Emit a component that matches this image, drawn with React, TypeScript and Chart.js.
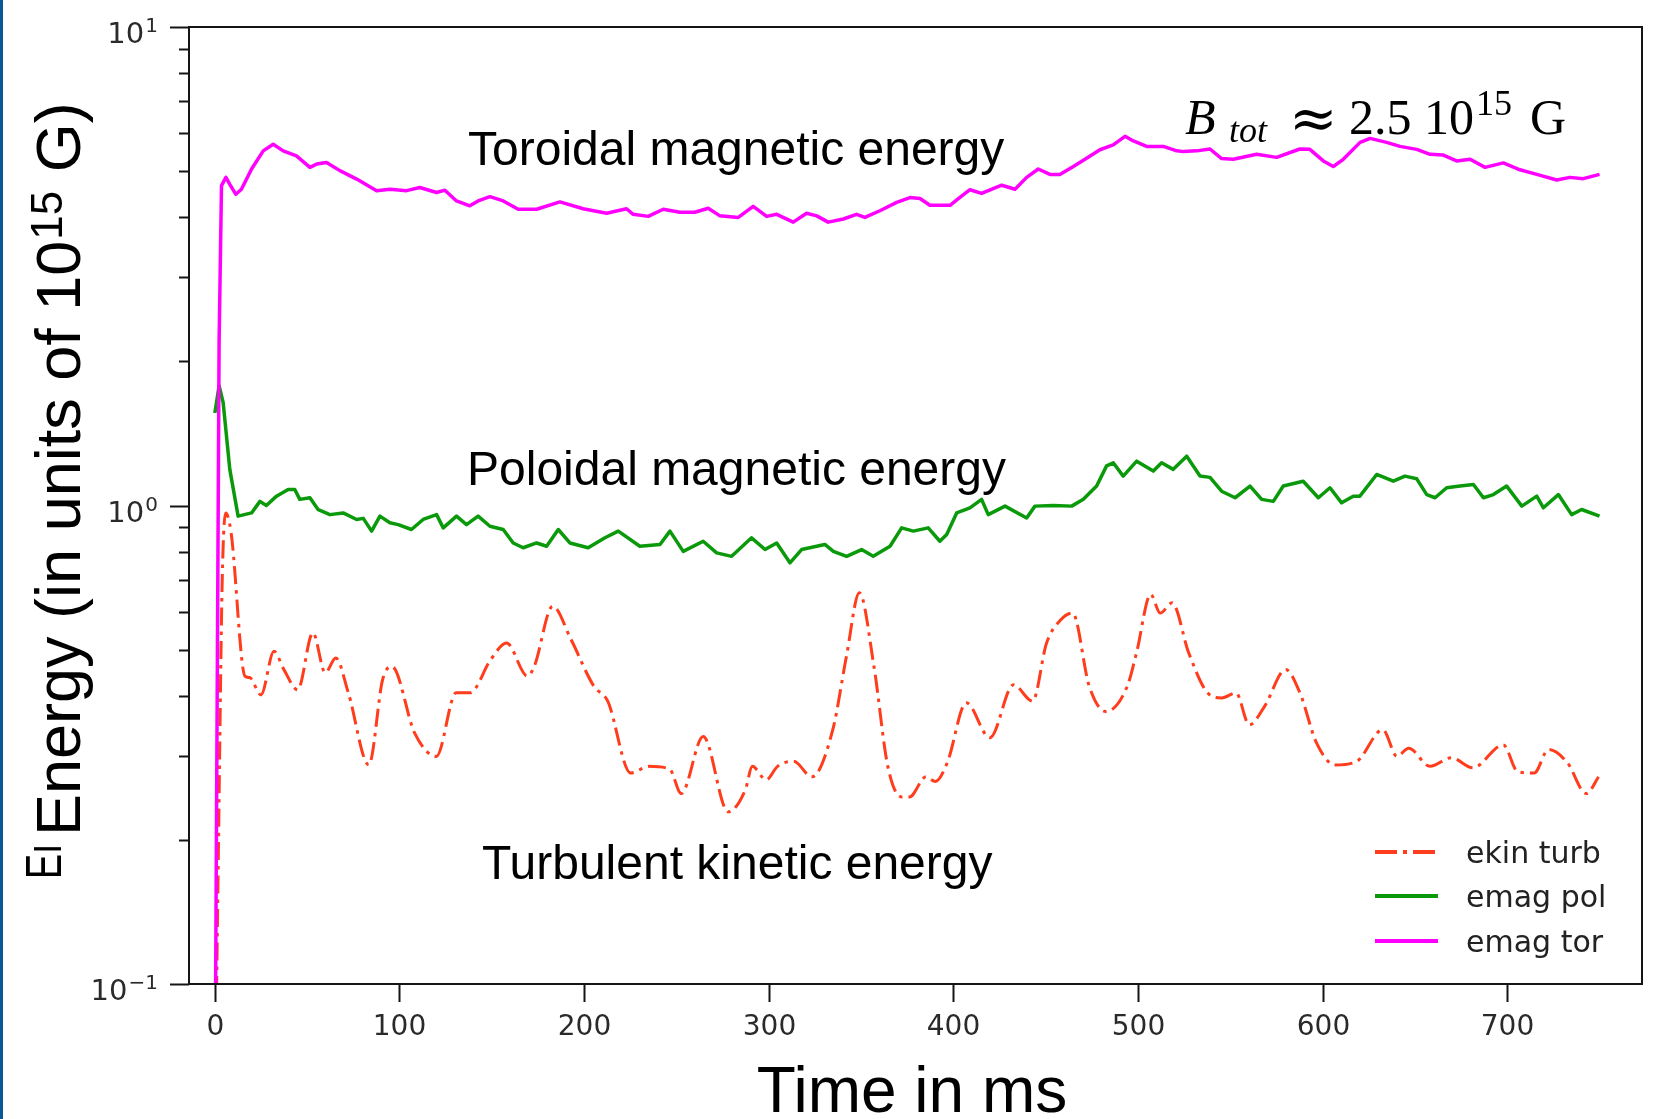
import React, { useEffect, useRef } from "react";
import { Chart, registerables } from "chart.js";

Chart.register(...registerables);

// ---- data (time in ms, energy in units of 10^15 G) ----
const tTor = [0, 2.3, 3.6, 6, 8.1, 11.4, 14.4, 19.9, 26.2, 31.6, 37, 44.2, 51.5, 55.1, 60.5, 67.7, 76.8, 87.6, 94.8, 103.8, 111, 120.1, 124.6, 130.9, 138.1, 142.6, 149, 156.2, 164.3, 174.3, 186.9, 199.5, 212.2, 223, 226.6, 234.7, 242.9, 251.9, 260, 267.2, 273.6, 283.5, 291.6, 298.9, 304.3, 313.3, 320.5, 326, 332.2, 340.4, 347.6, 352.1, 360.2, 369.3, 376.5, 381.9, 387.3, 398.2, 402.7, 409, 415.3, 426.2, 433.4, 439.7, 446, 452.3, 457.7, 465, 471.3, 479.4, 486.6, 493, 497.5, 504.7, 513.7, 521, 524.5, 531.8, 539, 545.3, 551.6, 564.3, 575.1, 587.7, 593.1, 600.4, 605.8, 611.2, 620.3, 625.7, 634.7, 641.9, 651, 658.2, 665.4, 672.6, 679.9, 688, 697.9, 706.9, 716, 726.8, 734, 741.2, 750];
const eTor = [0.05, 2.19, 4.66, 4.85, 4.69, 4.47, 4.58, 5.05, 5.51, 5.69, 5.51, 5.38, 5.09, 5.17, 5.21, 5.01, 4.81, 4.55, 4.58, 4.55, 4.62, 4.51, 4.56, 4.33, 4.23, 4.33, 4.42, 4.33, 4.16, 4.16, 4.31, 4.17, 4.08, 4.17, 4.06, 4.02, 4.16, 4.10, 4.10, 4.18, 4.03, 4.00, 4.22, 4.02, 4.06, 3.91, 4.08, 4.03, 3.91, 3.97, 4.06, 4.00, 4.13, 4.30, 4.40, 4.38, 4.24, 4.24, 4.38, 4.57, 4.49, 4.67, 4.58, 4.85, 5.05, 4.92, 4.92, 5.11, 5.29, 5.54, 5.67, 5.91, 5.78, 5.63, 5.63, 5.51, 5.49, 5.51, 5.56, 5.31, 5.29, 5.42, 5.34, 5.56, 5.55, 5.25, 5.11, 5.29, 5.74, 5.85, 5.74, 5.63, 5.55, 5.42, 5.40, 5.25, 5.29, 5.09, 5.20, 5.03, 4.92, 4.79, 4.85, 4.82, 4.92];

const tPol = [0, 2.3, 4.5, 8.1, 12.6, 19.9, 24.4, 27.9, 33.4, 39.7, 43.3, 46, 51.5, 56, 62.3, 69.5, 76.8, 80.4, 84.9, 89.4, 94.8, 99.3, 106.5, 112.8, 120.1, 123.7, 130.9, 136.3, 142.6, 149, 156.2, 161.6, 167, 174.3, 179.7, 186, 192.3, 202.2, 211.3, 218.5, 230.2, 241.1, 246.5, 253.7, 264.5, 271.8, 279.9, 290.7, 298, 304.3, 311.5, 317.8, 330.4, 335, 342.2, 350.3, 356.6, 365.7, 372, 378.3, 386.4, 392.7, 396.4, 401.8, 409, 415.3, 418.9, 428, 439.7, 444.2, 454.1, 464.1, 470.4, 477.6, 483, 486.6, 492, 499.3, 508.3, 512.8, 519.1, 526.4, 533.6, 539, 545.3, 552.6, 560.7, 567, 573.3, 578.7, 589.5, 597.7, 604, 610.3, 616.6, 620.2, 629.3, 638.3, 644.6, 651, 656.4, 660.9, 667.2, 674.4, 681.7, 687.1, 692.5, 699.7, 707.9, 716, 719.6, 727.7, 734.9, 740.3, 750];
const ePol = [1.56, 1.78, 1.64, 1.19, 0.95, 0.965, 1.02, 1.0, 1.046, 1.08, 1.08, 1.03, 1.038, 0.98, 0.957, 0.965, 0.935, 0.94, 0.884, 0.95, 0.92, 0.912, 0.891, 0.935, 0.957, 0.898, 0.95, 0.912, 0.95, 0.905, 0.891, 0.835, 0.816, 0.835, 0.822, 0.891, 0.835, 0.816, 0.856, 0.884, 0.822, 0.829, 0.884, 0.802, 0.842, 0.796, 0.783, 0.856, 0.809, 0.835, 0.759, 0.809, 0.829, 0.802, 0.783, 0.809, 0.783, 0.822, 0.898, 0.884, 0.898, 0.842, 0.87, 0.965, 0.989, 1.03, 0.957, 0.997, 0.942, 0.997, 1.0, 0.997, 1.03, 1.098, 1.21, 1.228, 1.152, 1.238, 1.18, 1.228, 1.19, 1.268, 1.152, 1.145, 1.071, 1.038, 1.098, 1.03, 1.02, 1.098, 1.124, 1.038, 1.089, 1.013, 1.046, 1.046, 1.161, 1.124, 1.152, 1.137, 1.054, 1.038, 1.089, 1.098, 1.106, 1.038, 1.054, 1.098, 0.997, 1.046, 0.989, 1.054, 0.957, 0.981, 0.95];

const tKin = [0, 2, 4, 5.9, 8.8, 16.3, 18.8, 25, 32, 37.4, 44.9, 53.1, 59.8, 65.5, 72.3, 83.4, 90.9, 95.9, 108.3, 120, 130.7, 138.2, 149.4, 158, 169.3, 173, 183, 192.9, 205.3, 212.8, 225.2, 235.1, 246.4, 252.6, 264.5, 278, 287.4, 291.1, 298.6, 304.8, 313.5, 323.4, 334.7, 342.1, 349.1, 357, 364.5, 372, 376.2, 385.2, 390.3, 396.7, 407, 419.8, 432.6, 442.9, 450.5, 458.2, 464.6, 473.6, 482.6, 494.2, 499.2, 506.9, 512, 518.5, 527.5, 537.7, 545.4, 553.1, 560.3, 568.5, 580, 587.7, 596.7, 606.9, 618.5, 632.6, 640.3, 646.6, 658.2, 669.7, 681.3, 697.9, 705.6, 714.6, 722.3, 732.6, 742.8, 749.5];
const eKin = [0.05, 0.2, 0.7, 0.965, 0.877, 0.44, 0.437, 0.402, 0.496, 0.454, 0.412, 0.542, 0.447, 0.48, 0.406, 0.287, 0.433, 0.461, 0.334, 0.299, 0.406, 0.406, 0.476, 0.516, 0.44, 0.461, 0.616, 0.525, 0.419, 0.39, 0.276, 0.285, 0.281, 0.25, 0.329, 0.229, 0.255, 0.285, 0.267, 0.285, 0.292, 0.271, 0.34, 0.484, 0.657, 0.461, 0.285, 0.246, 0.246, 0.271, 0.265, 0.29, 0.387, 0.327, 0.422, 0.39, 0.516, 0.577, 0.596, 0.419, 0.371, 0.419, 0.492, 0.652, 0.596, 0.626, 0.492, 0.406, 0.396, 0.406, 0.348, 0.38, 0.454, 0.406, 0.319, 0.287, 0.292, 0.34, 0.299, 0.311, 0.285, 0.297, 0.283, 0.316, 0.278, 0.276, 0.309, 0.29, 0.25, 0.271];

const xTicks = [0, 100, 200, 300, 400, 500, 600, 700];
const yDecades = [-1, 0, 1];
const legendLabels = ["ekin turb", "emag pol", "emag tor"];

const COL_TOR = "#ff00ff";
const COL_POL = "#0a990a";
const COL_KIN = "#ff3c1c";
const KIN_DASH = [18, 6, 3.5, 6];

const pts = (t: number[], e: number[]) => t.map((x, i) => ({ x, y: e[i] }));

const axesPlugin = {
  id: "customAxes",
  afterDraw(chart: any) {
    const ctx: CanvasRenderingContext2D = chart.ctx;
    const { left, right, top, bottom } = chart.chartArea;
    const xs = chart.scales.x;
    const ys = chart.scales.y;
    ctx.save();

    // blue left border of the figure
    ctx.fillStyle = "#0b5896";
    ctx.fillRect(0, 0, 3, chart.height);

    // spines
    ctx.strokeStyle = "#151515";
    ctx.lineWidth = 2;
    ctx.strokeRect(left, top, right - left, bottom - top);

    // x ticks
    ctx.fillStyle = "#2a2a2a";
    ctx.font = "28px 'DejaVu Sans'";
    ctx.textAlign = "center";
    ctx.textBaseline = "alphabetic";
    for (const v of xTicks) {
      const px = Math.round(xs.getPixelForValue(v)) + 0.5;
      ctx.beginPath();
      ctx.moveTo(px, bottom);
      ctx.lineTo(px, bottom + 18);
      ctx.stroke();
      ctx.fillText(String(v), px, 1035);
    }

    // y ticks (log): major at decades, minor at 2..9
    for (const e of yDecades) {
      const py = Math.round(ys.getPixelForValue(Math.pow(10, e))) + 0.5;
      ctx.beginPath();
      ctx.moveTo(left - 19, py);
      ctx.lineTo(left, py);
      ctx.stroke();
      const sup = e < 0 ? "\u2212" + String(-e) : String(e);
      ctx.textAlign = "left";
      ctx.font = "20px 'DejaVu Sans'";
      const supW = ctx.measureText(sup).width;
      ctx.font = "29px 'DejaVu Sans'";
      const baseW = ctx.measureText("10").width;
      const rEdge = 158;
      const bx = rEdge - supW - baseW - 1;
      ctx.fillText("10", bx, py + 15);
      ctx.font = "20px 'DejaVu Sans'";
      ctx.fillText(sup, bx + baseW + 1, py + 4);
      if (e < 1) {
        for (let m = 2; m <= 9; m++) {
          const my = Math.round(ys.getPixelForValue(m * Math.pow(10, e))) + 0.5;
          ctx.beginPath();
          ctx.moveTo(left - 10, my);
          ctx.lineTo(left, my);
          ctx.stroke();
        }
      }
    }

    // axis labels
    ctx.fillStyle = "#000";
    ctx.font = "64px 'Liberation Sans'";
    ctx.textAlign = "center";
    ctx.fillText("Time in ms", 912, 1112);

    // y label rotated
    ctx.save();
    ctx.translate(80, 836);
    ctx.rotate(-Math.PI / 2);
    ctx.textAlign = "left";
    const big = "63px 'Liberation Sans'";
    const small = "44px 'Liberation Sans'";
    ctx.font = big;
    const p1 = "Energy (in units of 10";
    ctx.fillText(p1, 0, 0);
    let cx = ctx.measureText(p1).width;
    ctx.font = small;
    ctx.fillText("15", cx + 1, -18);
    cx += ctx.measureText("15").width + 2;
    ctx.font = big;
    ctx.fillText(" G)", cx, 0);
    ctx.restore();

    // stray partial label fragment
    ctx.save();
    ctx.translate(61, 879);
    ctx.rotate(-Math.PI / 2);
    ctx.scale(0.75, 1);
    ctx.font = "50px 'Liberation Sans'";
    ctx.textAlign = "left";
    ctx.fillText("E\u0131", 0, 0);
    ctx.restore();

    // annotations
    ctx.textAlign = "left";
    ctx.font = "48px 'Liberation Sans'";
    ctx.fillText("Toroidal magnetic energy", 468, 165);
    ctx.fillText("Poloidal magnetic energy", 467, 485);
    ctx.fillText("Turbulent kinetic energy", 482, 879);

    // B_tot ≈ 2.5 10^15 G
    ctx.font = "italic 50px 'Liberation Serif'";
    ctx.fillText("B", 1185, 134);
    ctx.font = "italic 36px 'Liberation Serif'";
    ctx.fillText("tot", 1229, 142);
    ctx.font = "58px 'DejaVu Serif'";
    ctx.fillText("\u2248", 1289, 138);
    ctx.font = "50px 'Liberation Serif'";
    ctx.fillText("2.5", 1349, 134);
    ctx.fillText("10", 1424, 134);
    ctx.font = "36px 'Liberation Serif'";
    ctx.fillText("15", 1476, 115);
    ctx.font = "50px 'Liberation Serif'";
    ctx.fillText("G", 1530, 134);

    // legend
    const rows = [
      { y: 852, color: COL_KIN, dash: [22, 6, 4, 6] },
      { y: 896, color: COL_POL, dash: [] as number[] },
      { y: 941, color: COL_TOR, dash: [] as number[] },
    ];
    ctx.font = "30px 'DejaVu Sans'";
    rows.forEach((r, i) => {
      ctx.strokeStyle = r.color;
      ctx.lineWidth = 4;
      ctx.setLineDash(r.dash);
      ctx.beginPath();
      ctx.moveTo(1375, r.y);
      ctx.lineTo(1438, r.y);
      ctx.stroke();
      ctx.setLineDash([]);
      ctx.fillStyle = "#222";
      ctx.fillText(legendLabels[i], 1466, r.y + 11);
    });

    ctx.restore();
  },
};

export default function App() {
  const ref = useRef<HTMLCanvasElement | null>(null);
  useEffect(() => {
    if (!ref.current) return;
    const chart = new Chart(ref.current, {
      type: "line",
      data: {
        datasets: [
          {
            label: "emag tor",
            data: pts(tTor, eTor),
            borderColor: COL_TOR,
            borderWidth: 3.5,
            clip: 0,
          },
          {
            label: "emag pol",
            data: pts(tPol, ePol),
            borderColor: COL_POL,
            borderWidth: 3.5,
            clip: 0,
          },
          {
            label: "ekin turb",
            data: pts(tKin, eKin),
            borderColor: COL_KIN,
            borderWidth: 3,
            borderDash: KIN_DASH,
            cubicInterpolationMode: "monotone",
            clip: 0,
          },
        ] as any,
      },
      options: {
        animation: false,
        responsive: false,
        devicePixelRatio: 1,
        layout: { padding: { left: 189, top: 27, right: 18, bottom: 135 } },
        plugins: { legend: { display: false }, tooltip: { enabled: false } },
        elements: {
          point: { radius: 0 },
          line: { tension: 0, borderJoinStyle: "round", borderCapStyle: "butt" },
        },
        scales: {
          x: { type: "linear", min: -14, max: 773, display: false },
          y: { type: "logarithmic", min: 0.1, max: 10, display: false },
        },
      } as any,
      plugins: [axesPlugin],
    });
    return () => chart.destroy();
  }, []);
  return (
    <div style={{ position: "fixed", left: 0, top: 0, width: 1660, height: 1119, background: "#fff" }}>
      <canvas ref={ref} width={1660} height={1119} style={{ display: "block" }} />
    </div>
  );
}
